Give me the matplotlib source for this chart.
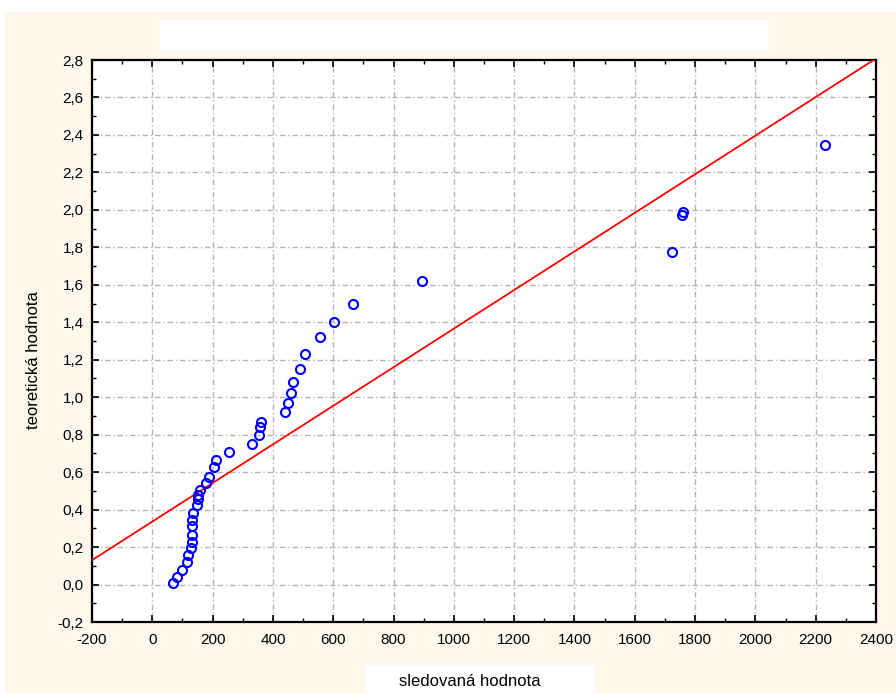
import matplotlib.pyplot as plt
from matplotlib.patches import Rectangle
from matplotlib.ticker import MultipleLocator, FuncFormatter
import numpy as np

plt.rcParams['font.family'] = ['Liberation Sans Narrow', 'Liberation Sans', 'DejaVu Sans']

# observed values vs. theoretical (normal score) values
x_obs = [70, 81, 100, 114, 119, 128, 133, 133, 133, 133, 136, 147, 153, 153,
         158, 177, 188, 205, 210, 253, 331, 354, 357, 362, 440, 450, 460, 467,
         490, 508, 556, 602, 666, 895, 1724, 1757, 1760, 2231]
y_theor = [0.006, 0.042, 0.077, 0.122, 0.157, 0.193, 0.228, 0.264, 0.31, 0.345,
           0.38, 0.425, 0.455, 0.48, 0.505, 0.54, 0.575, 0.626, 0.665, 0.707,
           0.75, 0.80, 0.84, 0.87, 0.92, 0.97, 1.02, 1.08, 1.15, 1.23, 1.32,
           1.40, 1.50, 1.62, 1.775, 1.97, 1.99, 2.347]

# fitted reference line
line_x = [-200, 2500]
line_intercept = 0.336
line_slope = 0.00103

cream = '#FEF8EC'
fig = plt.figure(figsize=(8.96, 6.93), dpi=100, facecolor=cream)
W, H = 896, 693

def px_rect(x0, y0, x1, y1, color):
    # background panels, drawn below the axes
    fig.add_artist(Rectangle((x0 / W, 1 - y1 / H), (x1 - x0) / W, (y1 - y0) / H,
                             transform=fig.transFigure, facecolor=color,
                             edgecolor='none', zorder=-1))

px_rect(0, 0, W, 12, 'white')
px_rect(0, 0, 5, H, 'white')
px_rect(160, 20, 768, 50, 'white')
px_rect(365, 665, 595, H, 'white')

ax = fig.add_axes([92 / W, 1 - 622 / H, (876 - 92) / W, (622 - 60) / H])
ax.set_facecolor('white')

lx = np.array(line_x, dtype=float)
ax.plot(lx, line_intercept + line_slope * lx, color='#FF0000', lw=1.3, zorder=3)
ax.plot(x_obs, y_theor, linestyle='none', marker='o', markersize=6.5,
        markerfacecolor='none', markeredgecolor='#0000FF', markeredgewidth=1.5,
        zorder=4)

ax.set_xlim(-200, 2400)
ax.set_ylim(-0.2, 2.8)
ax.xaxis.set_major_locator(MultipleLocator(200))
ax.xaxis.set_minor_locator(MultipleLocator(100))
ax.yaxis.set_major_locator(MultipleLocator(0.2))
ax.yaxis.set_minor_locator(MultipleLocator(0.1))
ax.yaxis.set_major_formatter(FuncFormatter(lambda v, p: f'{v:.1f}'.replace('.', ',').replace('-0,0', '0,0')))
ax.xaxis.set_major_formatter(FuncFormatter(lambda v, p: f'{v:.0f}'))

ax.tick_params(which='both', direction='in', top=True, right=True, colors='black',
               labelsize=11)
ax.tick_params(which='major', length=5, width=1.2)
ax.tick_params(which='minor', length=3, width=1.0)
ax.tick_params(axis='x', pad=8)
ax.tick_params(axis='y', pad=6)

for s in ax.spines.values():
    s.set_linewidth(1.6)
    s.set_color('black')

ax.grid(True, which='major', color='#b4b4b4', linewidth=1.0,
        linestyle=(0, (4, 2, 1, 2)), zorder=1)
ax.set_axisbelow(True)

ax.set_xlabel('sledovaná hodnota', fontsize=12, va='center')
ax.set_ylabel('teoretická hodnota', fontsize=12, va='center')
ax.xaxis.set_label_coords((470 - 92) / (876 - 92), -(682 - 622) / (622 - 60))
ax.yaxis.set_label_coords(-(92 - 34) / (876 - 92), (622 - 360) / (622 - 60))

fig.savefig('out.png', dpi=100, facecolor=cream)
